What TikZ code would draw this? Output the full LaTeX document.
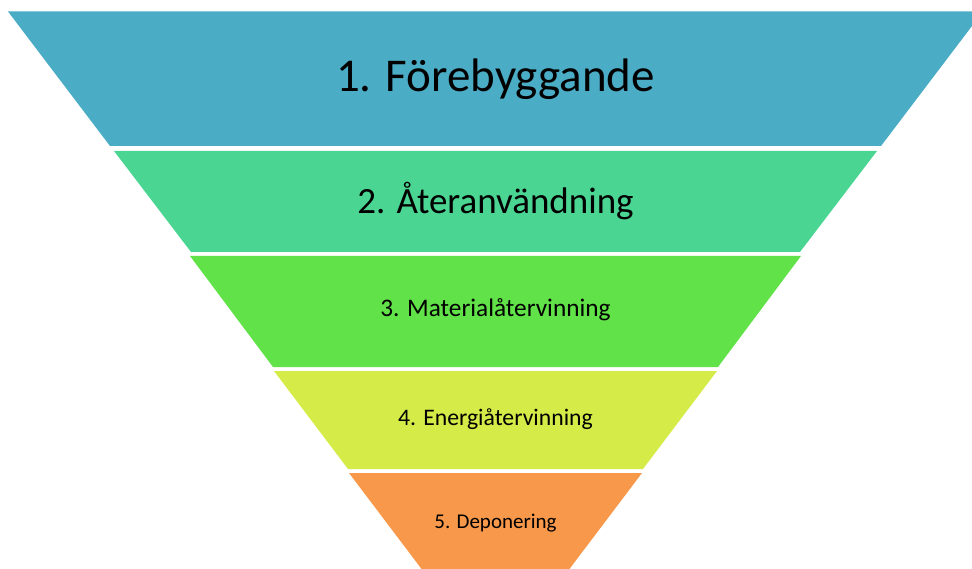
\documentclass[tikz,border=0pt]{standalone}
\usepackage{fontspec}
\setmainfont{Carlito}
\usepackage{tikz}
\usetikzlibrary{positioning}
\definecolor{lvlone}{RGB}{75,172,198}
\definecolor{lvltwo}{RGB}{74,214,146}
\definecolor{lvlthree}{RGB}{98,226,73}
\definecolor{lvlfour}{RGB}{212,235,72}
\definecolor{lvlfive}{RGB}{247,152,74}
\tikzstyle{band}=[draw=none]
\tikzstyle{lbl}=[inner sep=0pt,text=black,anchor=center]
\newcommand{\fsz}[1]{\fontsize{#1}{1.2\dimexpr#1pt\relax}\selectfont}

\begin{document}
\begin{tikzpicture}[x=1pt,y=-1pt]
\useasboundingbox (0,0) rectangle (972,569);
\clip (0,0) rectangle (972,569);
% bands, top to bottom
\fill[band,lvlone] (8,11.5) -- (983,11.5) -- (881,146) -- (110,146) -- cycle;
\fill[band,lvltwo] (114,151) -- (877,151) -- (800,252) -- (191,252) -- cycle;
\fill[band,lvlthree] (190,256) -- (801,256) -- (718,367) -- (273,367) -- cycle;
\fill[band,lvlfour] (274,371) -- (717,371) -- (643,469) -- (348,469) -- cycle;
\fill[band,lvlfive] (349,473) -- (642,473) -- (546,600) -- (445,600) -- cycle;
% labels
\node[lbl] (fore) at (495.5,79) {\fsz{47}1. Förebyggande};
\node[lbl] (ater) at (495.5,201) {\fsz{37}2. Återanvändning};
\node[lbl] (mat) at (495.5,310) {\fsz{25.3}3. Materialåtervinning};
\node[lbl] (ener) at (495.5,419) {\fsz{23.7}4. Energiåtervinning};
\node[lbl] (depo) at (495.5,523) {\fsz{21}5. Deponering};
\end{tikzpicture}
\end{document}
